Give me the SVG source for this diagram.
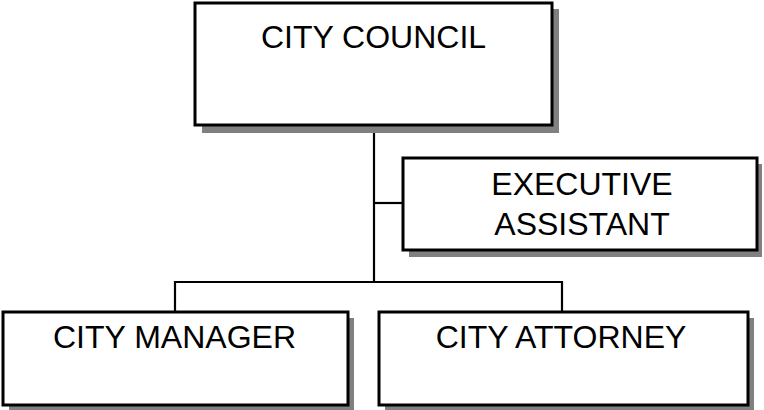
<svg xmlns="http://www.w3.org/2000/svg" width="764" height="410" viewBox="0 0 764 410">
<style>
.box{fill:#fff;stroke:#000;stroke-width:3}
.sh{fill:#808080}
.t{font-family:"Liberation Sans",Arial,sans-serif;font-size:32px;fill:#000;text-anchor:middle}
.c{fill:none;stroke:#000;stroke-width:2.2}
</style>
<rect width="764" height="410" fill="#fff"/>
<g id="connectors">
<line class="c" x1="374" y1="125" x2="374" y2="283"/>
<line class="c" x1="374" y1="203" x2="403" y2="203"/>
<polyline class="c" points="175,312 175,282 562,282 562,312"/>
</g>
<g id="city-council">
<rect class="sh" x="202" y="9" width="357" height="124"/>
<rect class="box" x="195" y="3" width="357" height="122"/>
<text class="t" x="373.5" y="48">CITY COUNCIL</text>
</g>
<g id="executive-assistant">
<rect class="sh" x="409" y="164" width="353" height="93"/>
<rect class="box" x="403" y="158" width="354" height="92"/>
<text class="t" x="582" y="195">EXECUTIVE</text>
<text class="t" x="582" y="235">ASSISTANT</text>
</g>
<g id="city-manager">
<rect class="sh" x="9" y="318" width="345" height="94"/>
<rect class="box" x="3" y="312" width="345" height="93"/>
<text class="t" x="174.5" y="348">CITY MANAGER</text>
</g>
<g id="city-attorney">
<rect class="sh" x="385" y="318" width="369" height="94"/>
<rect class="box" x="379" y="312" width="369" height="93"/>
<text class="t" x="561" y="348">CITY ATTORNEY</text>
</g>
</svg>
